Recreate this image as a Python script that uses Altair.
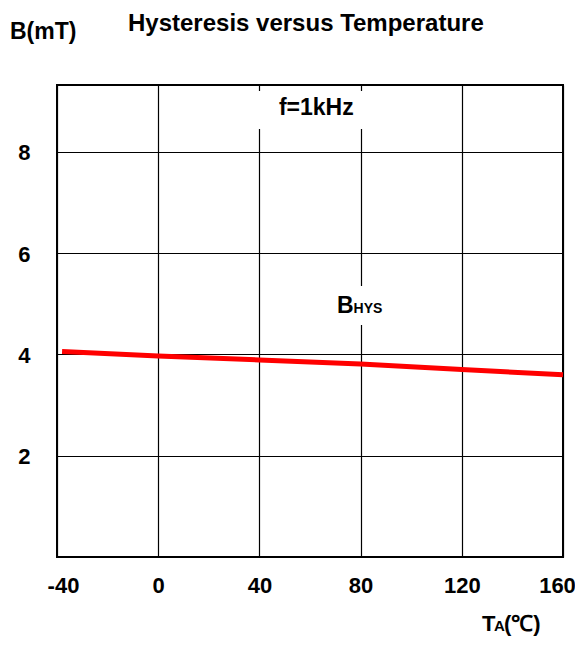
import altair as alt
import pandas as pd

# data
temps = [-38, 0, 40, 80, 120, 160]
bhys = [4.06, 3.97, 3.89, 3.81, 3.70, 3.60]
x_ticks = [-40, 0, 40, 80, 120, 160]
y_ticks = [2, 4, 6, 8]
x_domain = [-40, 160]
y_domain = [0, 9.32]

FONT = "Liberation Sans"

df = pd.DataFrame({"T": temps, "B": bhys})

xs = alt.Scale(domain=x_domain, nice=False, zero=False)
ys = alt.Scale(domain=y_domain, nice=False, zero=False)

x_axis = alt.Axis(values=x_ticks, grid=True, gridColor="black", gridWidth=1.2, gridOpacity=1,
                  ticks=False, domain=False, labelFont=FONT, labelFontSize=22, labelFontWeight="bold",
                  labelColor="black", labelPadding=18, title=None, labelFlush=False,
                  labelExpr="replace(datum.label, '\u2212', '-')",
                  labelOffset=alt.ExprRef("datum.value == 160 ? -6 : (datum.value == -40 ? 6 : 0)"))
y_axis = alt.Axis(values=y_ticks, grid=True, gridColor="black", gridWidth=1.2, gridOpacity=1,
                  ticks=False, domain=False, labelFont=FONT, labelFontSize=22, labelFontWeight="bold",
                  labelColor="black", labelPadding=27, labelOffset=1, title=None)

line = alt.Chart(df).mark_line(color="#ff0000", strokeWidth=5, strokeCap="butt").encode(
    x=alt.X("T:Q", scale=xs, axis=x_axis),
    y=alt.Y("B:Q", scale=ys, axis=y_axis),
)

# white boxes behind annotations
boxes = pd.DataFrame({"x1": [38, 72], "x2": [83, 88], "y1": [8.45, 4.58], "y2": [9.2, 5.35]})
rects = alt.Chart(boxes).mark_rect(color="white").encode(
    x=alt.X("x1:Q", scale=xs), x2="x2:Q",
    y=alt.Y("y1:Q", scale=ys), y2="y2:Q",
)

frame = alt.Chart(pd.DataFrame({"x1": [x_domain[0]], "x2": [x_domain[1]],
                                "y1": [y_domain[0]], "y2": [y_domain[1]]})).mark_rect(
    filled=False, stroke="black", strokeWidth=2
).encode(x=alt.X("x1:Q", scale=xs), x2="x2:Q", y=alt.Y("y1:Q", scale=ys), y2="y2:Q")

ann1 = alt.Chart(pd.DataFrame({"x": [62.5], "y": [8.72], "t": ["f=1kHz"]})).mark_text(
    font=FONT, fontSize=23, fontWeight="bold", color="black", align="center", baseline="alphabetic"
).encode(x=alt.X("x:Q", scale=xs), y=alt.Y("y:Q", scale=ys), text="t:N")

annB = alt.Chart(pd.DataFrame({"x": [80], "y": [4.82], "t": ["B"]})).mark_text(
    font=FONT, fontSize=23, fontWeight="bold", color="black", align="right", baseline="alphabetic", dx=-7
).encode(x=alt.X("x:Q", scale=xs), y=alt.Y("y:Q", scale=ys), text="t:N")
annH = alt.Chart(pd.DataFrame({"x": [80], "y": [4.82], "t": ["HYS"]})).mark_text(
    font=FONT, fontSize=14, fontWeight="bold", color="black", align="left", baseline="alphabetic", dx=-7
).encode(x=alt.X("x:Q", scale=xs), y=alt.Y("y:Q", scale=ys), text="t:N")

def label(txt, x, y, size=21, align="left"):
    return alt.Chart(pd.DataFrame({"t": [txt]})).mark_text(
        font=FONT, fontSize=size, fontWeight="bold", color="black", align=align, baseline="alphabetic"
    ).encode(text="t:N", x=alt.value(x), y=alt.value(y))

# plot origin is at page (57, 85)
title = label("Hysteresis versus Temperature", 128 - 57, 31 - 85, 24, "left")
ylab = label("B(mT)", 10 - 57, 39 - 85, 23, "left")
xlabT = label("T", 482 - 57, 631 - 85, 22, "left")
xlabA = label("A", 494 - 57, 631 - 85, 15, "left")
xlabC = label("(℃)", 504 - 57, 631 - 85, 22, "left")

chart = alt.layer(rects, frame, line, ann1, annB, annH, title, ylab, xlabT, xlabA, xlabC).properties(
    width=506, height=472,
    autosize=alt.AutoSizeParams(type="none"),
    padding={"left": 49, "top": 77, "right": 12, "bottom": 80},
).configure_view(stroke=None).configure(background="white")

chart.save("out.html", embed_options={"renderer": "svg", "actions": False})
